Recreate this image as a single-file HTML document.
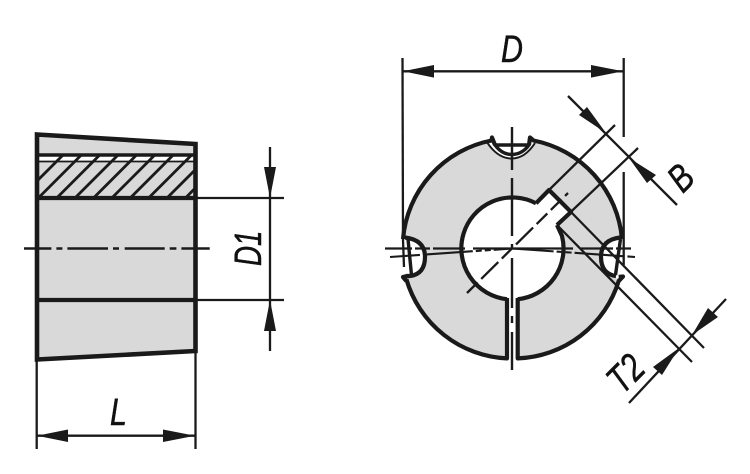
<!DOCTYPE html>
<html>
<head>
<meta charset="utf-8">
<style>
html,body{margin:0;padding:0;background:#fff;width:750px;height:474px;overflow:hidden}
svg{display:block}
text{font-family:"Liberation Sans",sans-serif;font-style:italic;font-size:38px;fill:#111;stroke:#111;stroke-width:.5px}
</style>
</head>
<body>
<svg width="750" height="474" viewBox="0 0 750 474" xmlns="http://www.w3.org/2000/svg">
<defs>
<clipPath id="hb"><rect x="38" y="155" width="157" height="43"/></clipPath>
</defs>

<!-- LEFT VIEW -->
<polygon points="37,134 195.5,144 195.5,351 37,359.5" fill="#d9d9d9"/>
<rect x="38" y="156" width="157" height="5" fill="#fff"/>
<line x1="37" y1="161.5" x2="195" y2="161.5" stroke="#1a1a1a" stroke-width="1.8"/>
<g clip-path="url(#hb)" stroke="#1a1a1a" stroke-width="2.8">
<line x1="20" y1="198" x2="63" y2="155"/>
<line x1="38.3" y1="198" x2="81.3" y2="155"/>
<line x1="56.7" y1="198" x2="99.7" y2="155"/>
<line x1="75" y1="198" x2="118" y2="155"/>
<line x1="93.5" y1="198" x2="136.5" y2="155"/>
<line x1="111.8" y1="198" x2="154.8" y2="155"/>
<line x1="130.2" y1="198" x2="173.2" y2="155"/>
<line x1="148.6" y1="198" x2="191.6" y2="155"/>
<line x1="167" y1="198" x2="210" y2="155"/>
<line x1="185.4" y1="198" x2="228.4" y2="155"/>
</g>
<g stroke="#1a1a1a" fill="none">
<polygon points="37,134.5 195.5,144 195.5,351 37,359.5" stroke-width="4.6"/>
<line x1="37" y1="155" x2="195" y2="155" stroke-width="3.4"/>
<line x1="36" y1="198" x2="196" y2="198" stroke-width="4.2"/>
<line x1="36" y1="300" x2="196" y2="300" stroke-width="4.2"/>
<line x1="24" y1="248.5" x2="210" y2="248.5" stroke-width="2.4" stroke-dasharray="27.4 5 6 5 40.6 5 6 5.7 40 5 6.7 5 28.3"/>
<!-- D1 -->
<line x1="196" y1="198" x2="284" y2="198" stroke-width="2.3"/>
<line x1="196" y1="300" x2="284" y2="300" stroke-width="2.3"/>
<line x1="270" y1="147" x2="270" y2="351" stroke-width="2.3"/>
<!-- L -->
<line x1="36.7" y1="360" x2="36.7" y2="449" stroke-width="2.3"/>
<line x1="195.5" y1="351" x2="195.5" y2="449" stroke-width="2.3"/>
<line x1="37" y1="435.7" x2="195" y2="435.7" stroke-width="2.3"/>
</g>
<g fill="#1a1a1a">
<polygon points="270,198 264,167 276,167"/>
<polygon points="270,300 264,331 276,331"/>
<polygon points="37,435.7 68,429.5 68,442"/>
<polygon points="195,435.7 163,429.5 163,442"/>
</g>
<text transform="translate(110,425) scale(.8,1)">L</text>
<text transform="translate(261,266) rotate(-90) scale(.73,1)">D1</text>

<!-- RIGHT VIEW -->
<circle cx="512.5" cy="248.5" r="110" fill="#d9d9d9"/>
<!-- white areas -->
<circle cx="512.5" cy="248.5" r="51" fill="#fff"/>
<polygon points="536,203 549,190 571,212 557,225 562,236 540,240" fill="#fff"/>
<rect x="507" y="285" width="10.7" height="80" fill="#fff"/>
<path d="M486,130 L487.5,143 Q500,158.5 511.7,158.5 Q524,158.5 536,143 L538,130 Z" fill="#fff"/>
<path d="M395,236 L408,236 Q427,244 427,257 Q427,270 410,278 L398,280 Z" fill="#fff"/>
<path d="M630,236 L620,236 Q599,244 599,257 Q599,270 615,278 L628,280 Z" fill="#fff"/>

<g stroke="#1a1a1a" fill="none" stroke-linejoin="round">
<!-- outer arcs -->
<path d="M403,239 A110,110 0 0 1 491.5,140.5 L492,137.5 L495,145" stroke-width="4.2"/>
<path d="M622,239 A110,110 0 0 0 533.5,140.5 L530,137.5 L529,145" stroke-width="4.2"/>
<path d="M618.7,277 L623,276.5 L618.7,281 A110,110 0 0 1 517.7,358.4 L517.7,298" stroke-width="4.2"/>
<path d="M406.3,281 L403,277 L407,276 M406.3,279 A110,110 0 0 0 507,358.4 L507,298" stroke-width="4.2"/>
<!-- bore + keyway -->
<path d="M536,203.3 A51,51 0 1 0 507,299.2" stroke-width="4.2"/>
<path d="M517.7,299.2 A51,51 0 0 0 562,236 L557,225" stroke-width="4.2"/>
<path d="M536,203.3 L549,190 L571,212 L557,225" stroke-width="4.2"/>
<!-- top notch -->
<path d="M487.5,143 Q498,158.5 511.7,158.5 Q525,158.5 535,143" stroke-width="2"/>
<path d="M495,145 Q502,154.5 511.7,154.5 Q522,154.5 529,145 Z" stroke-width="3.4"/>
<!-- left notch -->
<path d="M405,237.5 Q425,240 425,256.7 Q425,274 410,276 L406,276" stroke-width="4.2"/>
<line x1="408" y1="239" x2="411.5" y2="275" stroke-width="3.4"/>
<!-- right notch -->
<path d="M620,237.5 Q601,240 601,256.7 Q601,274 616,276" stroke-width="4.2"/>
<line x1="620.5" y1="239" x2="615.5" y2="275" stroke-width="3.4"/>

<!-- center lines -->
<line x1="512" y1="127" x2="512" y2="370" stroke-width="2.4" stroke-dasharray="43 8 58 8 5 9 50 8 7 9 38"/>
<line x1="385" y1="248.5" x2="635" y2="248.5" stroke-width="2.3" stroke-dasharray="27 3 15 3 32 8 100 8 32 3 15"/>
<path d="M390,257 L512,248.5 L635,257" stroke-width="2.1" stroke-dasharray="30 3 50 3 6 3 6 3 60 3 6 3 6 3 50 3 40"/>
<line x1="467" y1="293" x2="568" y2="193" stroke-width="2.3" stroke-dasharray="15 5 24 5 15 5 24 5 15 5"/>

<!-- D dim -->
<line x1="402.5" y1="58" x2="403" y2="240" stroke-width="2.3"/>
<line x1="403" y1="240" x2="404" y2="267" stroke-width="2.3"/>
<line x1="623.7" y1="58" x2="623.7" y2="137" stroke-width="2.3"/>
<line x1="623.7" y1="172" x2="623.7" y2="265" stroke-width="2.3"/>
<line x1="403" y1="71.3" x2="623" y2="71.3" stroke-width="2.3"/>

<!-- B dim -->
<line x1="568" y1="96" x2="677" y2="205" stroke-width="2.3"/>
<line x1="615" y1="125" x2="549" y2="190" stroke-width="2.3"/>
<line x1="638" y1="148" x2="557" y2="225" stroke-width="2.3"/>

<!-- T2 dim -->
<line x1="571" y1="212" x2="704" y2="348" stroke-width="2.3"/>
<line x1="557" y1="225" x2="692" y2="362" stroke-width="2.3"/>
<line x1="726" y1="299" x2="629" y2="403" stroke-width="2.3"/>
</g>
<g fill="#1a1a1a">
<polygon points="403,71.3 434,65 434,77.6"/>
<polygon points="623,71.3 591,65 591,77.6"/>
<polygon points="606,133 579,115 587,107"/>
<polygon points="629,158 647,183 656,175"/>
<polygon points="692,335 708,308 718,317"/>
<polygon points="679,348 653,367 662,375"/>
</g>
<text transform="translate(501,62) scale(.8,1)">D</text>
<text transform="translate(680,177) rotate(-45) scale(.8,1)" text-anchor="middle" y="14" style="font-size:38px">B</text>
<text transform="translate(625,373) rotate(-45) scale(.78,1)" text-anchor="middle" y="14" style="font-size:39px">T2</text>
</svg>
</body>
</html>
